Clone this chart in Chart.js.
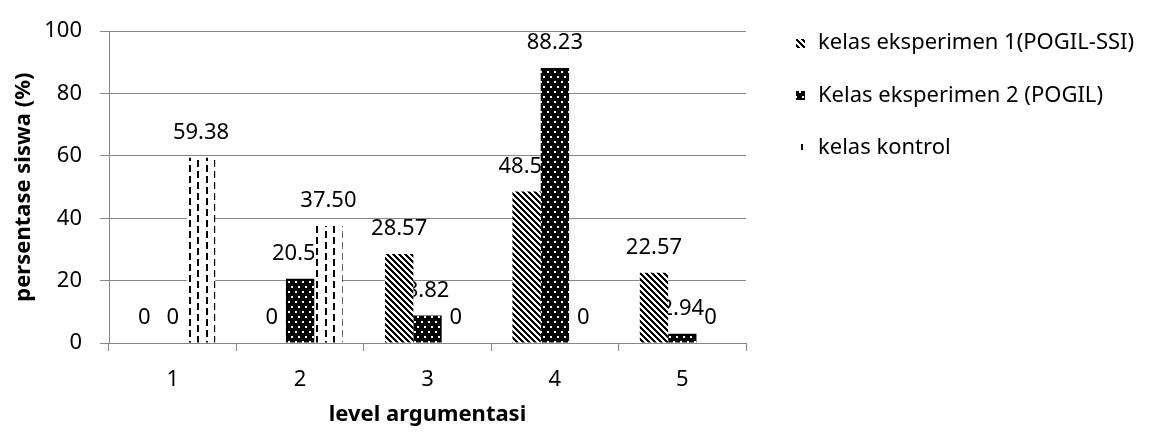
<!DOCTYPE html>
<html>
<head>
<meta charset="utf-8">
<style>
  html, body { margin: 0; padding: 0; background: #ffffff; }
  #wrap { width: 1154px; height: 432px; position: relative; }
</style>
<script src="https://cdn.jsdelivr.net/npm/chart.js@4.4.1/dist/chart.umd.min.js"></script>
</head>
<body>
<div id="wrap"><canvas id="chart" width="1154" height="432"></canvas></div>
<script>
// Level argumentasi siswa per kelas (persen)
const categories = ['1', '2', '3', '4', '5'];
const seriesNames = [
  'kelas eksperimen 1(POGIL-SSI)',
  'Kelas eksperimen 2 (POGIL)',
  'kelas kontrol'
];
const eksperimen1 = [0, 0, 28.57, 48.57, 22.57];
const eksperimen2 = [0, 20.59, 8.82, 88.23, 2.94];
const kontrol = [59.38, 37.50, 0, 0, 0];
const yTicks = [0, 20, 40, 60, 80, 100];

const FONT = "'Noto Sans', 'Open Sans', sans-serif";
const GRID = '#868686';

// Fill patterns for the three series
function makeTile(w, h, paint) {
  const c = document.createElement('canvas');
  c.width = w; c.height = h;
  const g = c.getContext('2d');
  paint(g, w, h);
  return g.createPattern(c, 'repeat');
}

// wide downward diagonal stripes
const stripePattern = makeTile(6, 6, (g, w, h) => {
  g.fillStyle = '#ffffff';
  g.fillRect(0, 0, w, h);
  g.fillStyle = '#000000';
  for (let y = 0; y < h; y++) {
    for (let x = 0; x < w; x++) {
      if ((((x - y) % 6) + 6) % 6 < 3) g.fillRect(x, y, 1, 1);
    }
  }
});

// black with white dots
const dotPattern = makeTile(7, 10, (g, w, h) => {
  g.fillStyle = '#000000';
  g.fillRect(0, 0, w, h);
  g.fillStyle = '#ffffff';
  g.fillRect(1, 1, 2, 2);
  g.fillRect(4, 6, 2, 2);
});

// white with staggered vertical dashes
const dashPattern = makeTile(17, 11, (g, w, h) => {
  g.fillStyle = '#ffffff';
  g.fillRect(0, 0, w, h);
  g.fillStyle = '#000000';
  g.fillRect(2, 0, 2, 7);
  g.fillRect(10, 6, 2, 5);
  g.fillRect(10, 0, 2, 2);
});

// Value labels above each bar (drawn beneath the bars)
const valueLabels = {
  id: 'valueLabels',
  beforeDatasetsDraw(chart) {
    const ctx = chart.ctx;
    ctx.save();
    ctx.font = '22px ' + FONT;
    ctx.fillStyle = '#000000';
    ctx.textAlign = 'center';
    ctx.textBaseline = 'middle';
    chart.data.datasets.forEach((ds, i) => {
      const meta = chart.getDatasetMeta(i);
      meta.data.forEach((bar, j) => {
        const v = ds.data[j];
        const txt = v === 0 ? '0' : v.toFixed(2);
        ctx.fillText(txt, bar.x, bar.y - 25);
      });
    });
    ctx.restore();
  }
};

// Legend on the right: pattern swatch and series name
const sideLegend = {
  id: 'sideLegend',
  afterDraw(chart) {
    const ctx = chart.ctx;
    const rows = [43, 95.5, 148];
    ctx.save();
    ctx.font = '22px ' + FONT;
    ctx.textAlign = 'left';
    ctx.textBaseline = 'middle';
    chart.data.datasets.forEach((ds, i) => {
      const y = rows[i];
      ctx.fillStyle = ds.backgroundColor;
      ctx.fillRect(796, Math.round(y - 4.5), 9, 9);
      ctx.fillStyle = '#000000';
      ctx.fillText(ds.label, 818, y);
    });
    ctx.restore();
  }
};

const datasets = [
  { label: seriesNames[0], data: eksperimen1, backgroundColor: stripePattern },
  { label: seriesNames[1], data: eksperimen2, backgroundColor: dotPattern },
  { label: seriesNames[2], data: kontrol, backgroundColor: dashPattern }
];

new Chart(document.getElementById('chart'), {
  type: 'bar',
  data: { labels: categories, datasets },
  options: {
    responsive: false,
    animation: false,
    devicePixelRatio: 1,
    layout: { padding: { top: 21, right: 408, bottom: 0, left: 0 } },
    datasets: {
      bar: { categoryPercentage: 0.667, barPercentage: 1.0, borderWidth: 0 }
    },
    plugins: {
      legend: { display: false },
      tooltip: { enabled: false }
    },
    scales: {
      x: {
        grid: {
          display: true,
          drawOnChartArea: false,
          drawTicks: true,
          tickLength: 8,
          color: GRID,
          offset: true
        },
        border: { display: true, color: GRID, width: 1 },
        ticks: { color: '#000000', font: { family: FONT, size: 22 }, padding: 16 },
        title: {
          display: true,
          text: 'level argumentasi',
          color: '#000000',
          font: { family: FONT, size: 22, weight: 'bold' },
          padding: { top: 0, bottom: 4 }
        },
        afterFit(scale) { scale.height = 89; }
      },
      y: {
        min: 0,
        max: 100,
        afterBuildTicks(scale) { scale.ticks = yTicks.map(v => ({ value: v })); },
        grid: {
          color: GRID,
          lineWidth: 1,
          drawTicks: true,
          tickLength: 9
        },
        border: { display: true, color: GRID, width: 1 },
        ticks: { color: '#000000', font: { family: FONT, size: 22 }, padding: 18 },
        title: {
          display: true,
          text: 'persentase siswa (%)',
          color: '#000000',
          font: { family: FONT, size: 22, weight: 'bold' },
          padding: { top: 11, bottom: 0 }
        },
        afterFit(scale) { scale.width = 109; }
      }
    }
  },
  plugins: [valueLabels, sideLegend]
});
</script>
</body>
</html>
